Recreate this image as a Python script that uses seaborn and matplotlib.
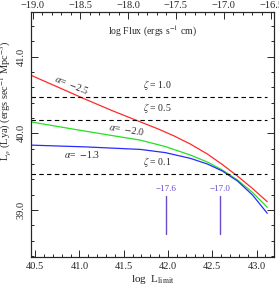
import numpy as np
import pandas as pd
import matplotlib
matplotlib.use("Agg")
import matplotlib.pyplot as plt
from matplotlib.ticker import MultipleLocator, FuncFormatter
import seaborn as sns

# ---- data ----
red_x = [40.451, 40.760, 41.066, 41.371, 41.688, 41.880, 42.061, 42.254,
         42.446, 42.615, 42.785, 42.955, 43.121]
red_y = [40.757, 40.600, 40.444, 40.294, 40.148, 40.060, 39.969, 39.858,
         39.728, 39.591, 39.441, 39.279, 39.107]
green_x = [40.451, 41.066, 41.688, 41.971, 42.254, 42.446, 42.615, 42.785,
           42.955, 43.121]
green_y = [40.148, 40.027, 39.910, 39.826, 39.715, 39.624, 39.520, 39.390,
           39.227, 39.034]
blue_x = [40.451, 41.066, 41.688, 41.971, 42.254, 42.446, 42.615, 42.785,
          42.955, 43.121]
blue_y = [39.845, 39.822, 39.789, 39.747, 39.672, 39.598, 39.507, 39.377,
          39.194, 38.956]

zeta_values = [40.47, 40.17, 39.47]
zeta_labels = ["1.0", "0.5", "0.1"]

flux_marks_x = [41.98, 42.59]
flux_marks_lab = ["−17.6", "−17.0"]

sns.set_style("ticks")
plt.rcParams["font.family"] = ["Liberation Serif", "DejaVu Serif"]
plt.rcParams["mathtext.fontset"] = "stix"

df = pd.concat([
    pd.DataFrame({"x": red_x, "y": red_y, "s": "a"}),
    pd.DataFrame({"x": green_x, "y": green_y, "s": "b"}),
    pd.DataFrame({"x": blue_x, "y": blue_y, "s": "c"}),
])

fig = plt.figure(figsize=(2.79, 2.87), dpi=100)
ax = fig.add_axes([0.110, 0.1056, 0.873, 0.851])

sns.lineplot(data=df, x="x", y="y", hue="s", sort=False, estimator=None,
             palette={"a": "#ff2a2a", "b": "#22e022", "c": "#2a2aff"},
             linewidth=0.9, legend=False, ax=ax)

ax.set_xlim(40.45, 43.2)
ax.set_ylim(38.39, 41.575)

for v, lab in zip(zeta_values, zeta_labels):
    ax.plot([40.45, 43.12], [v, v], color="black", lw=0.8, ls=(0, (4, 3)))
    ax.text(41.72, v + 0.07, r"$\zeta$ = " + lab, fontsize=7, va="bottom", ha="left")

ax.text(40.91, 40.63, r"$\alpha$=  $-$2.5", fontsize=7, rotation=-22,
        ha="center", va="center")
ax.text(41.53, 40.05, r"$\alpha$=  $-$2.0", fontsize=7, rotation=-9,
        ha="center", va="center")
ax.text(41.03, 39.72, r"$\alpha$=  $-$1.3", fontsize=7,
        ha="center", va="center")

purple = "#6a4cc8"
for xv, lab in zip(flux_marks_x, flux_marks_lab):
    ax.plot([xv, xv], [38.69, 39.18], color=purple, lw=1.0)
    ax.text(xv, 39.22, lab, color=purple, fontsize=6.5, ha="center", va="bottom")

fmt = FuncFormatter(lambda v, p: ("%.1f" % v).replace("-", "−"))
ax.xaxis.set_major_locator(MultipleLocator(0.5))
ax.xaxis.set_minor_locator(MultipleLocator(0.1))
ax.yaxis.set_major_locator(MultipleLocator(1.0))
ax.yaxis.set_minor_locator(MultipleLocator(0.2))
ax.xaxis.set_major_formatter(fmt)
ax.yaxis.set_major_formatter(fmt)
ax.tick_params(which="both", direction="in", right=True, top=False, labelsize=7.5,
               width=0.7)
ax.tick_params(which="major", length=5)
ax.tick_params(which="minor", length=2.5)
plt.setp(ax.get_yticklabels(), rotation=90, va="center")
for s in ax.spines.values():
    s.set_linewidth(0.8)

ax.set_xlabel(r"log  L$_{\rm limit}$", fontsize=8, labelpad=2)
ax.set_ylabel(r"L$_\rho$ (Lya) (ergs sec$^{-1}$ Mpc$^{-3}$)", fontsize=7.5)
ax.yaxis.set_label_coords(-0.073, 0.64)

top = ax.twiny()
top.set_xlim(-19.02, -16.47)
top.xaxis.set_major_locator(MultipleLocator(0.5))
top.xaxis.set_minor_locator(MultipleLocator(0.1))
top.xaxis.set_major_formatter(fmt)
top.tick_params(which="both", direction="in", labelsize=7.5, width=0.7, pad=1.5)
top.tick_params(which="major", length=5)
top.tick_params(which="minor", length=2.5)
top.text(0.5, 0.955, r"log Flux (ergs s$^{-1}$ cm)", transform=top.transAxes,
         fontsize=7, ha="center", va="top")

fig.savefig("out.png", dpi=100)
